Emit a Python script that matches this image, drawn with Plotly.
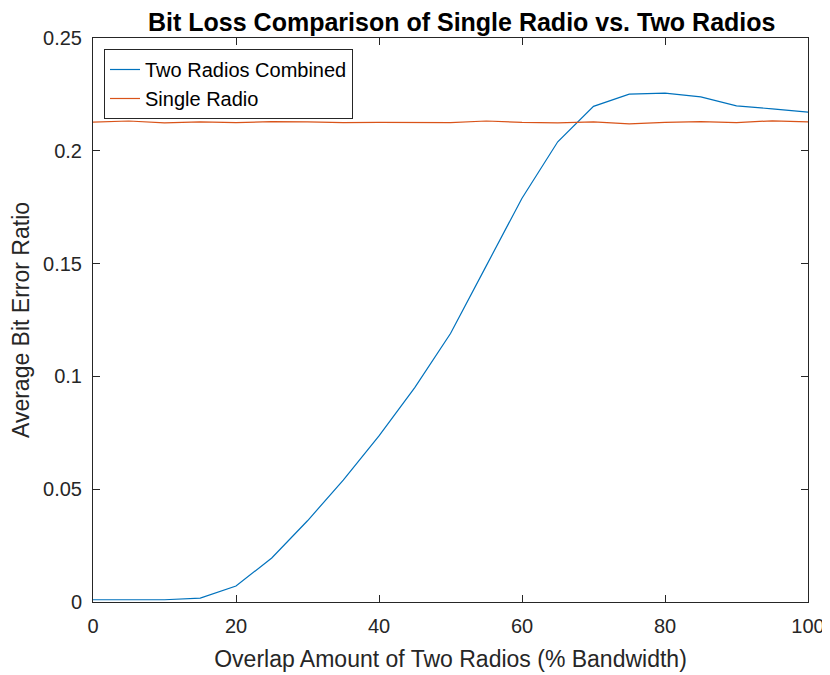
import plotly.graph_objects as go

overlap = [0, 5, 10, 15, 20, 25, 30, 35, 40, 45, 50, 55, 60, 65, 70, 75, 80, 85, 90, 95, 100]
two_radios = [0.001, 0.001, 0.001, 0.0017, 0.0071, 0.0195, 0.036, 0.054, 0.0736, 0.095, 0.119,
              0.149, 0.179, 0.204, 0.2197, 0.2251, 0.2256, 0.2239, 0.2199, 0.2186, 0.2171]
single_radio = [0.2127, 0.2132, 0.2124, 0.2128, 0.2125, 0.2129, 0.2128, 0.2125, 0.2126, 0.2127, 0.2125,
                0.2132, 0.2126, 0.2124, 0.2128, 0.2119, 0.2126, 0.2129, 0.2125, 0.2133, 0.2128]
x_ticks = [0, 20, 40, 60, 80, 100]
y_ticks = [0, 0.05, 0.1, 0.15, 0.2, 0.25]
y_tick_text = ["0", "0.05", "0.1", "0.15", "0.2", "0.25"]

fig = go.Figure()
fig.add_trace(go.Scatter(x=overlap, y=two_radios, mode="lines", name="Two Radios Combined",
                         line=dict(color="#0072BD", width=1.2)))
fig.add_trace(go.Scatter(x=overlap, y=single_radio, mode="lines", name="Single Radio",
                         line=dict(color="#D95319", width=1.2)))

axis_common = dict(showgrid=False, zeroline=False, showline=True, linecolor="#262626", linewidth=1,
                   mirror="ticks", ticks="inside", ticklen=7, tickcolor="#262626",
                   tickfont=dict(size=20, color="#262626"), automargin=False)

fig.update_layout(
    width=822, height=667,
    paper_bgcolor="white", plot_bgcolor="white",
    font=dict(family="Liberation Sans, Arial, sans-serif", color="#262626"),
    margin=dict(l=85, r=22, t=30, b=73),
    title=dict(text="<b>Bit Loss Comparison of Single Radio vs. Two Radios</b>",
               x=0.552, xanchor="center", yref="container", y=0.979, yanchor="middle",
               font=dict(size=25, color="black")),
    xaxis=dict(range=[0, 100], tickvals=x_ticks, ticklabelstandoff=6,
               title=dict(text="Overlap Amount of Two Radios (% Bandwidth)", font=dict(size=23), standoff=14),
               **axis_common),
    yaxis=dict(range=[0, 0.25], tickvals=y_ticks, ticktext=y_tick_text, ticklabelstandoff=6,
               title=dict(text="Average Bit Error Ratio", font=dict(size=23), standoff=10),
               **axis_common),
    legend=dict(x=0.0154, y=0.9805, xanchor="left", yanchor="top",
                bordercolor="#262626", borderwidth=1, bgcolor="white",
                font=dict(size=20, color="black"), tracegroupgap=0),
    showlegend=True,
)

fig.write_html("out.html")
